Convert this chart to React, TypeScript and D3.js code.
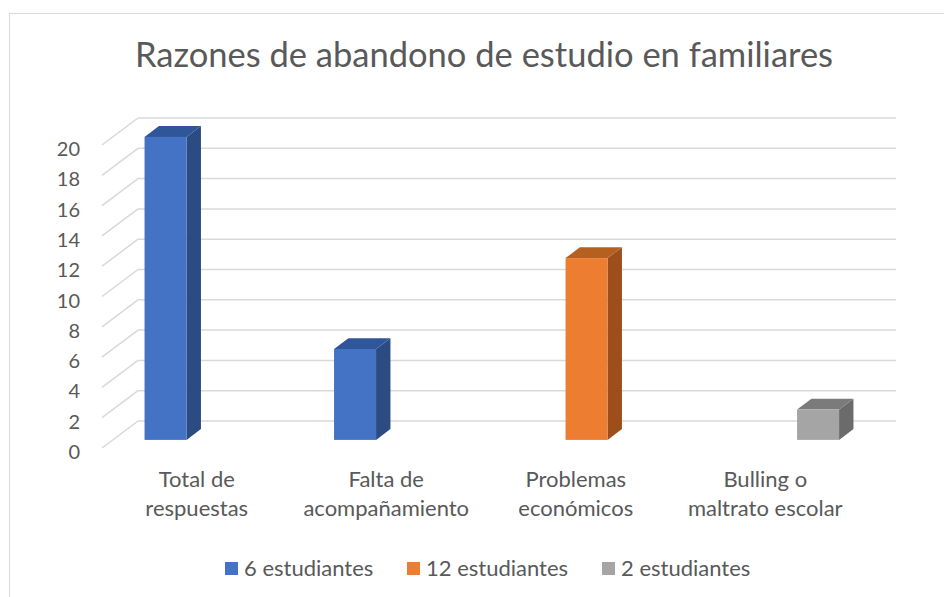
import React from "react";
import * as d3 from "d3";

const categories = [
  ["Total de", "respuestas"],
  ["Falta de", "acompañamiento"],
  ["Problemas", "económicos"],
  ["Bulling o", "maltrato escolar"],
];
const seriesNames = ["6 estudiantes", "12 estudiantes", "2 estudiantes"];
const series1 = [20, 6, null, null];
const series2 = [null, null, 12, null];
const series3 = [null, null, null, 2];
const yTicks = [0, 2, 4, 6, 8, 10, 12, 14, 16, 18, 20];
const titleText = "Razones de abandono de estudio en familiares";

const W = 944;
const H = 597;
const FONT = "Lato, 'Open Sans', sans-serif";
const TEXT = "#595959";
const GRID = "#D9D9D9";

const faceColors = [
  { front: "#4472C4", side: "#2B4B82", top: "#30569A" },
  { front: "#ED7D31", side: "#9E4E1B", top: "#B5601F" },
  { front: "#A5A5A5", side: "#6B6B6B", top: "#7B7B7B" },
];

export default function App() {
  const allSeries = [series1, series2, series3];
  const x0 = 102;
  const x1 = 860;
  const depthDx = 36;
  const depthDy = -27;
  const yFront = d3.scaleLinear().domain([0, 20]).range([448, 145]);
  const xCat = d3
    .scaleBand<number>()
    .domain(categories.map((_, i) => i))
    .range([x0, x1])
    .padding(0);
  const bw = xCat.bandwidth();
  const gap = bw * 0.1675;
  const xSer = d3
    .scaleBand<number>()
    .domain(seriesNames.map((_, i) => i))
    .range([gap, bw - gap])
    .padding(0);
  const f0 = 0.3;
  const f1 = 0.7;

  const bars: any[] = [];
  allSeries.forEach((vals, si) => {
    vals.forEach((v, ci) => {
      if (v == null) return;
      const fx = (xCat(ci) as number) + (xSer(si) as number) + f0 * depthDx;
      const w = xSer.bandwidth();
      const yb = yFront(0) + f0 * depthDy;
      const yt = yFront(v) + f0 * depthDy;
      const ddx = (f1 - f0) * depthDx;
      const ddy = (f1 - f0) * depthDy;
      bars.push({ si, ci, fx, w, yb, yt, ddx, ddy });
    });
  });

  const legendX = [225, 407, 602];

  return (
    <svg
      width={W}
      height={H}
      style={{ position: "absolute", left: 0, top: 0, background: "#fff" }}
      fontFamily={FONT}
    >
      <rect x={0} y={0} width={W} height={H} fill="#fff" />
      <rect x={9.5} y={13.5} width={1200} height={1200} fill="none" stroke={GRID} strokeWidth={1} />
      <text x={484} y={67} textAnchor="middle" fontSize={34.5} fill={TEXT}>
        {titleText}
      </text>

      {yTicks.map((t) => {
        const yf = yFront(t);
        return (
          <g key={t}>
            <line x1={x0} y1={yf} x2={x0 + depthDx} y2={yf + depthDy} stroke={GRID} strokeWidth={1.5} />
            <line x1={x0 + depthDx} y1={yf + depthDy} x2={x1 + depthDx} y2={yf + depthDy} stroke={GRID} strokeWidth={1.5} />
            <text x={80} y={yf + 3} textAnchor="end" dominantBaseline="central" fontSize={20} fill={TEXT}>
              {t}
            </text>
          </g>
        );
      })}

      {bars.map((b) => {
        const c = faceColors[b.si];
        const { fx, w, yb, yt, ddx, ddy } = b;
        const top = `M${fx},${yt} L${fx + w},${yt} L${fx + w + ddx},${yt + ddy} L${fx + ddx},${yt + ddy} Z`;
        const side = `M${fx + w},${yt} L${fx + w + ddx},${yt + ddy} L${fx + w + ddx},${yb + ddy} L${fx + w},${yb} Z`;
        return (
          <g key={`${b.si}-${b.ci}`}>
            <path d={side} fill={c.side} />
            <path d={top} fill={c.top} />
            <rect x={fx} y={yt} width={w} height={yb - yt} fill={c.front} />
          </g>
        );
      })}

      {categories.map((lines, ci) => {
        const cx = (xCat(ci) as number) + bw / 2;
        return (
          <text key={ci} textAnchor="middle" fontSize={22} fill={TEXT}>
            {lines.map((l, li) => (
              <tspan key={li} x={cx} y={487 + li * 29}>
                {l}
              </tspan>
            ))}
          </text>
        );
      })}

      {seriesNames.map((n, i) => (
        <g key={n}>
          <rect x={legendX[i]} y={562} width={13} height={13} fill={faceColors[i].front} />
          <text x={legendX[i] + 19} y={576} fontSize={22} fill={TEXT}>
            {n}
          </text>
        </g>
      ))}
    </svg>
  );
}
